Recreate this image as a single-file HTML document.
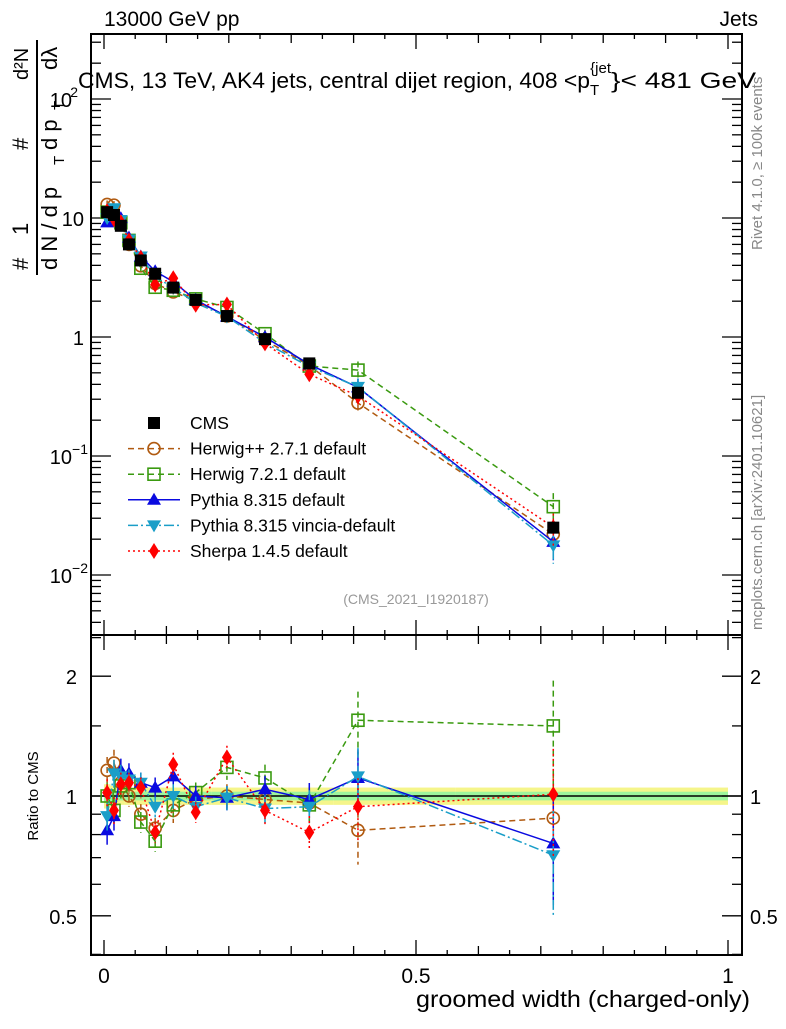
<!DOCTYPE html>
<html><head><meta charset="utf-8"><style>
body{margin:0;background:#fff;}
svg text{font-family:"Liberation Sans",sans-serif;}
</style></head><body>
<svg id="c" width="786" height="1024" xmlns="http://www.w3.org/2000/svg"></svg>
<script>
const xs=[0.005,0.016,0.027,0.040,0.059,0.082,0.111,0.147,0.197,0.258,0.329,0.407,0.72];
const cmsVals=[11.2,10.6,8.6,6.0,4.4,3.4,2.6,2.05,1.5,0.96,0.60,0.34,0.025];
const bandYellow=[0.07,0.06,0.05,0.05,0.05,0.05,0.05,0.05,0.05,0.05,0.05,0.05,0.05];
const bandGreen=[0.03,0.03,0.025,0.025,0.025,0.025,0.025,0.025,0.025,0.025,0.025,0.025,0.025];
const herwigppRatio=[1.16,1.21,1.08,1.0,0.90,0.83,0.92,0.98,1.0,0.98,0.96,0.82,0.88];
const herwig7Ratio=[1.0,0.92,1.06,1.08,0.86,0.77,0.95,1.02,1.18,1.11,0.95,1.55,1.5];
const pythiaRatio=[0.82,0.89,1.16,1.14,1.08,1.05,1.12,1.0,0.99,1.04,0.98,1.11,0.76];
const vinciaRatio=[0.89,1.14,1.12,1.10,1.08,0.94,1.0,0.94,0.99,0.93,0.94,1.12,0.71];
const sherpaRatio=[1.02,0.92,1.07,1.08,1.05,0.81,1.2,0.91,1.25,0.92,0.81,0.94,1.01];
const mcErr=[0.08,0.08,0.07,0.06,0.06,0.06,0.07,0.06,0.07,0.08,0.1,0.18,0.3];
const xTicks=[0,0.5,1];
const mainTickLabels=["10^-2","10^-1","1","10","10^2"];
const ratioTicks=[0.5,1,2];

const svg=document.getElementById('c');
const NS="http://www.w3.org/2000/svg";
const L=91,R=742,T=34,MB=635,B=955;
const X=v=>104+v*624;
const Ym=v=>218-(Math.log10(v)-1)*119;
const Yr=v=>796-Math.log10(v)*398;
function el(tag,attrs,parent){const e=document.createElementNS(NS,tag);for(const k in attrs)e.setAttribute(k,attrs[k]);(parent||svg).appendChild(e);return e;}

const defs=el('defs',{});
const c1=el('clipPath',{id:'cm'},defs);el('rect',{x:L,y:T,width:R-L,height:MB-T},c1);
const c2=el('clipPath',{id:'cr'},defs);el('rect',{x:L,y:MB,width:R-L,height:B-MB},c2);

const gBand=el('g',{'clip-path':'url(#cr)'});


xs.forEach((x,i)=>{
  const x0=i==0?X(0):X((xs[i-1]+x)/2), x1=i==xs.length-1?X(1):X((x+xs[i+1])/2);
  el('rect',{x:x0,y:Yr(1+bandYellow[i]),width:x1-x0,height:Yr(1-bandYellow[i])-Yr(1+bandYellow[i]),fill:'#f5f58a'},gBand);
  el('rect',{x:x0,y:Yr(1+bandGreen[i]),width:x1-x0,height:Yr(1-bandGreen[i])-Yr(1+bandGreen[i]),fill:'#9df59d'},gBand);
});
el('line',{x1:L,x2:R,y1:Yr(1),y2:Yr(1),stroke:'#000','stroke-width':1.5},gBand);

const f1=el('rect',{x:L,y:T,width:R-L,height:MB-T,fill:'none',stroke:'#000','stroke-width':2});

const f2=el('rect',{x:L,y:MB,width:R-L,height:B-MB,fill:'none',stroke:'#000','stroke-width':2});


const gx=el('g',{stroke:'#000','stroke-width':1.3});

for(let k=0;k<=20;k++){const v=k*0.05;const len=k%10==0?15:(k%2==0?9:5);
  [[MB,-1],[B,-1],[T,1],[MB,1]].forEach(([y,d])=>{ if(d<0) el('line',{x1:X(v),x2:X(v),y1:y,y2:y-len},gx); else el('line',{x1:X(v),x2:X(v),y1:y,y2:y+len},gx);});}
xTicks.forEach(v=>{const t=el('text',{x:X(v),y:983,'font-size':21,'text-anchor':'middle'});t.textContent=String(v);
  });
const xt=el('text',{x:416,y:1007,'font-size':23,textLength:334,lengthAdjust:'spacingAndGlyphs'});xt.textContent='groomed width (charged-only)';


const gy=el('g',{stroke:'#000','stroke-width':1.3});

for(let e=-3;e<=2;e++)for(let m=1;m<=9;m++){const v=m*Math.pow(10,e);const y=Ym(v);if(y<T||y>MB)continue;const len=m==1?20:10;
  el('line',{x1:L,x2:L+len,y1:y,y2:y},gy);el('line',{x1:R,x2:R-len,y1:y,y2:y},gy);}
const ml=[[0.01,"10","−2"],[0.1,"10","−1"],[1,"1",""],[10,"10",""],[100,"10","2"]];
ml.forEach(([v,b,s],i)=>{const t=el('text',{x:s?72:84,y:Ym(v)+8,'font-size':20,'text-anchor':'end'});t.textContent=b;
  
  if(s){const u=el('text',{x:s.length>1?88:78,y:Ym(v)-2,'font-size':14,'text-anchor':'end'});u.textContent=s;
  }});

const rminor=[0.4,0.6,0.7,0.8,0.9,1.5,2.5];
rminor.forEach(v=>{const y=Yr(v);if(y<MB||y>B)return;el('line',{x1:L,x2:L+10,y1:y,y2:y},gy);el('line',{x1:R,x2:R-10,y1:y,y2:y},gy);});
ratioTicks.forEach(v=>{const y=Yr(v);el('line',{x1:L,x2:L+20,y1:y,y2:y},gy);el('line',{x1:R,x2:R-20,y1:y,y2:y},gy);
  const t=el('text',{x:77,y:y+8,'font-size':20,'text-anchor':'end'});t.textContent=String(v);
  
  const t2=el('text',{x:750,y:y+8,'font-size':20});t2.textContent=String(v);
  });
const ry=el('text',{transform:'translate(38,796) rotate(-90)','font-size':15,'text-anchor':'middle'});ry.textContent='Ratio to CMS';


function marker(g,type,x,y,col){
  const s=6;
  if(type=='sq')el('rect',{x:x-s,y:y-s,width:2*s,height:2*s,fill:'#000'},g);
  else if(type=='circ')el('circle',{cx:x,cy:y,r:s,fill:'none',stroke:col,'stroke-width':1.6},g);
  else if(type=='osq')el('rect',{x:x-s,y:y-s,width:2*s,height:2*s,fill:'none',stroke:col,'stroke-width':1.6},g);
  else if(type=='tri')el('polygon',{points:`${x},${y-7} ${x-7},${y+5} ${x+7},${y+5}`,fill:col},g);
  else if(type=='itri')el('polygon',{points:`${x},${y+7} ${x-7},${y-5} ${x+7},${y-5}`,fill:col},g);
  else if(type=='dia')el('polygon',{points:`${x},${y-8} ${x-5},${y} ${x},${y+8} ${x+5},${y}`,fill:col},g);
}
const series=[
 {name:'herwigpp',ratio:herwigppRatio,col:'#b05a10',m:'circ',dash:'6,4'},
 {name:'herwig7',ratio:herwig7Ratio,col:'#3a9a10',m:'osq',dash:'6,4'},
 {name:'pythia',ratio:pythiaRatio,col:'#0a0ae0',m:'tri',dash:''},
 {name:'vincia',ratio:vinciaRatio,col:'#1a9ec8',m:'itri',dash:'10,3,2,3'},
 {name:'sherpa',ratio:sherpaRatio,col:'#ff0000',m:'dia',dash:'2,3'}];
series.forEach(s=>{
  [['cm',Ym,i=>cmsVals[i]*s.ratio[i]],['cr',Yr,i=>s.ratio[i]]].forEach(([cp,Yf,val],pi)=>{
    const g=el('g',{'clip-path':`url(#${cp})`});
    
    
    const pts=xs.map((x,i)=>X(x)+','+Yf(val(i))).join(' ');
    el('polyline',{points:pts,fill:'none',stroke:s.col,'stroke-width':1.5,'stroke-dasharray':s.dash},g);
    xs.forEach((x,i)=>{const v=val(i);
      el('line',{x1:X(x),x2:X(x),y1:Yf(v*(1+mcErr[i])),y2:Yf(v*(1-mcErr[i])),stroke:s.col,'stroke-width':1.5,'stroke-dasharray':s.dash},g);
      marker(g,s.m,X(x),Yf(v),s.col);});
  });
});
const gd=el('g',{'clip-path':'url(#cm)'});

xs.forEach((x,i)=>{el('line',{x1:X(x),x2:X(x),y1:Ym(cmsVals[i]*(1+bandYellow[i])),y2:Ym(cmsVals[i]*(1-bandYellow[i])),stroke:'#000','stroke-width':1.5},gd);
  marker(gd,'sq',X(x),Ym(cmsVals[i]),'#000');});

const leg=[['CMS','sq','#000',''],['Herwig++ 2.7.1 default','circ','#b05a10','6,4'],['Herwig 7.2.1 default','osq','#3a9a10','6,4'],
 ['Pythia 8.315 default','tri','#0a0ae0',''],['Pythia 8.315 vincia-default','itri','#1a9ec8','10,3,2,3'],['Sherpa 1.4.5 default','dia','#ff0000','2,3']];
leg.forEach((l,i)=>{const y=423+i*25.6;const g=el('g',{});
  
  if(i>0)el('line',{x1:128,x2:180,y1:y,y2:y,stroke:l[2],'stroke-width':1.5,'stroke-dasharray':l[3]},g);
  marker(g,l[1],154,y,l[2]);
  const t=el('text',{x:190,y:y+6,'font-size':17.5},g);t.textContent=l[0];});

function txt(x,y,s,str,name,extra){const t=el('text',Object.assign({x:x,y:y,'font-size':s},extra||{}));t.textContent=str;
  return t;}
txt(104,26,21,'13000 GeV pp','header-energy');
txt(758,26,21,'Jets','header-jets',{'text-anchor':'end'});
const ti=txt(78,88,22,'','plot-title');
ti.innerHTML='<tspan textLength="512" lengthAdjust="spacingAndGlyphs">CMS, 13 TeV, AK4 jets, central dijet region, 408 &lt;p</tspan><tspan font-size="15" dy="7">T</tspan><tspan font-size="15" dy="-22" dx="-9">{jet</tspan><tspan dy="15" textLength="145" lengthAdjust="spacingAndGlyphs">}&lt; 481 GeV</tspan>';
txt(416,604,14,'(CMS_2021_I1920187)','analysis-id',{'text-anchor':'middle',fill:'#999'});
txt(0,0,15,'Rivet 4.1.0, ≥ 100k events','rivet-version',{transform:'translate(762,250) rotate(-90)',fill:'#888'});
txt(0,0,15,'mcplots.cern.ch [arXiv:2401.10621]','mcplots-credit',{transform:'translate(762,630) rotate(-90)',fill:'#888'});
const yt=el('g',{});
function rt(x,y,s,str){const t=el('text',{transform:`translate(${x},${y}) rotate(-90)`,'font-size':s},yt);t.textContent=str;}
rt(28,270,22,'#');rt(28,235,22,'1');rt(57,270,22,'d N / d p');rt(64,165,15,'T');rt(28,150,22,'#');rt(57,150,22,'d p');rt(64,110,15,'T');
rt(28,80,20,'d²N');rt(57,70,22,'dλ');
el('line',{x1:37,x2:37,y1:275,y2:40,stroke:'#000','stroke-width':2},yt);
</script>
</body></html>
